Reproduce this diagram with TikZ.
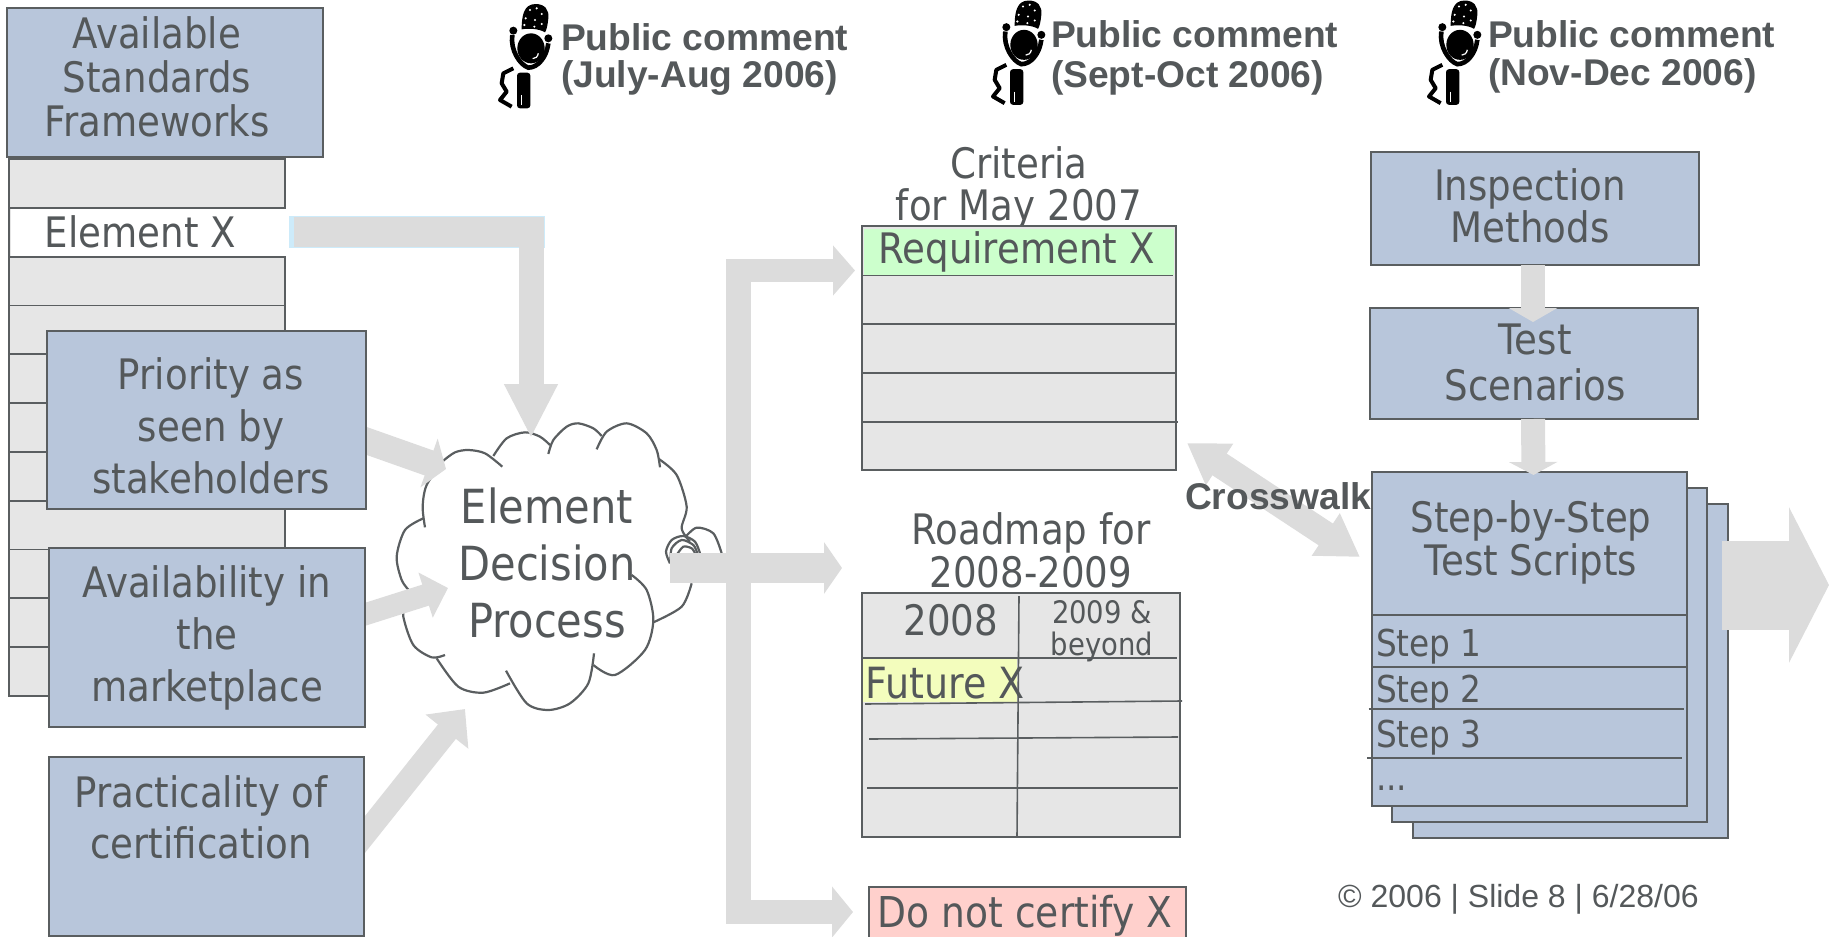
\documentclass[tikz,border=0pt]{standalone}
\usepackage{fontspec}
\usetikzlibrary{arrows.meta,calc}
\newfontfamily\tah[FakeStretch=0.885]{DejaVu Sans}
\newfontfamily\ari{Liberation Sans}
\definecolor{ink}{HTML}{54585A}
\definecolor{edgec}{HTML}{5A5E60}
\definecolor{bluefill}{HTML}{B8C6DB}
\definecolor{grayfill}{HTML}{E6E6E6}
\definecolor{arrowc}{HTML}{DCDCDC}
\definecolor{yelfill}{HTML}{F3FDBD}
\definecolor{redfill}{HTML}{FFD0CC}
\definecolor{grnfill}{HTML}{CCFFCC}
\definecolor{bluerim}{HTML}{CDEBFA}
\pgfdeclarelayer{backl}
\pgfdeclarelayer{midl}
\pgfsetlayers{backl,midl,main}
\tikzset{
  boxbase/.style={draw=edgec,line width=1.8pt,inner sep=0,outer sep=0,anchor=north west},
  bluebox/.style={boxbase,fill=bluefill},
  graybox/.style={boxbase,fill=grayfill},
  tx/.style 2 args={text=ink,inner sep=0,outer sep=0,align=center,anchor=base,font=\tah\fontsize{#1}{#2}\selectfont},
  pub/.style={text=ink,inner sep=0,outer sep=0,align=left,anchor=base west,font=\ari\bfseries\fontsize{37.2}{37}\selectfont},
  barrow/.style={draw=arrowc,line cap=butt},
  tline/.style={draw=edgec,line width=1.6pt},
  cl/.style={draw=edgec,line width=2.2pt},
  pics/mic/.style={code={
    \fill[black] (80,88) .. controls (80,50) and (85,12) .. (122,12) .. controls (150,12) and (163,30) .. (160,55) .. controls (158,75) and (155,90) .. (150,97) .. controls (130,85) and (100,85) .. (80,88) -- cycle;
    \foreach \a/\b in {105/30,125/25,140/42,92/55,120/60,140/72,88/75,118/80}{\fill[white] (\a,\b) circle[radius=3.5];}
    \fill[black] (55,92) circle[radius=12];
    \fill[black] (160,115) circle[radius=12];
    \fill[black] (108,145) ellipse[x radius=41,y radius=45];
    \draw[white,line width=1.2pt] (113,176) .. controls (122,176) and (128,170) .. (130,160);
    \draw[black,line width=4.6pt] (52,105) .. controls (45,150) and (75,195) .. (100,203) .. controls (130,203) and (155,170) .. (160,130);
    \fill[black,rounded corners=3pt] (66,218) rectangle (106,325);
    \draw[white,line width=1.4pt] (79,285) -- (79,315);
    \draw[black,line width=4pt,line join=round] (55,205) -- (25,220) -- (20,250) -- (35,275) -- (15,300) -- (50,320);
  }}
}
\begin{document}
\begin{tikzpicture}[x=1pt,y=-1pt]
\useasboundingbox (0,0) rectangle (1829,937);
\begin{pgfonlayer}{backl}
% element list
\foreach \i in {0,...,10}{
  \node[graybox,minimum width=276pt,minimum height=48.8pt] (row\i) at (9,{159+48.8*\i}) {};
}
\fill[white] (10.5,209) rectangle (287,255.6);
% cloud
\begin{scope}[shift={(380,400)},scale=1/3]
\draw[cl] plot[smooth] coordinates {(135,382) (128,320) (140,255) (190,182)};
\draw[cl] plot[smooth] coordinates {(190,182) (225,157) (265,150) (315,160) (367,200)};
\draw[cl] plot[smooth] coordinates {(340,168) (380,115) (435,97) (480,110) (510,135)};
\draw[cl] plot[smooth] coordinates {(505,162) (520,120) (560,80) (595,70) (640,85) (665,108)};
\draw[cl] plot[smooth] coordinates {(650,148) (680,95) (740,70) (800,100) (830,150) (840,202)};
\draw[cl] plot[smooth] coordinates {(838,178) (890,225) (920,320) (905,385) (930,425)};
\draw[cl] plot[smooth] coordinates {(915,412) (950,383) (1000,400) (1025,460)};
\draw[cl] plot[smooth] coordinates {(870,490) (858,455) (875,420) (910,408) (945,425) (960,460)};
\draw[cl] plot[smooth] coordinates {(872,490) (875,445) (905,420) (940,435) (952,460)};
\draw[cl] plot[smooth] coordinates {(890,465) (910,440) (935,445) (945,460)};
\draw[cl] plot[smooth] coordinates {(935,550) (905,620) (820,667)};
\draw[cl] plot[smooth] coordinates {(755,525) (800,570) (820,660) (795,750) (705,825) (640,795)};
\draw[cl] plot[smooth] coordinates {(642,760) (625,850) (570,910) (505,930) (440,910) (378,812)};
\draw[cl] plot[smooth] coordinates {(390,850) (310,878) (235,860) (170,775)};
\draw[cl] plot[smooth] coordinates {(195,765) (155,772) (100,735) (70,650) (78,610)};
\draw[cl] plot[smooth] coordinates {(130,355) (75,390) (50,470) (65,540) (88,572)};
\end{scope}
\end{pgfonlayer}
\node[tx={42}{48}] (elemx) at (140.5,247) {Element X};
\node[tx={47}{57}] (cloudt) at (547,637) {Element\\Decision\\Process};
% element X arrow
\fill[bluerim] (289,216) rectangle (544.5,248);
\draw[barrow,line width=30pt] (293.5,232) -- (543.5,232);
\coordinate (tipE) at (531,438);
\draw[barrow,line width=25pt,-{Triangle[length=54pt,width=50pt]}] (531,217) -- (tipE);
% top left box
\node[bluebox,minimum width=316pt,minimum height=149pt] (avail) at (7,8) {};
\node[tx={42}{43.7}] (availt) at (157,136) {Available\\Standards\\Frameworks};
% factor boxes; their arrows lie on a layer below and start behind them
\coordinate (tipP) at (446,469);
\coordinate (tipM) at (448,588);
\coordinate (tipC) at (465,709);
\node[bluebox,minimum width=319pt,minimum height=178pt] (prio) at (47,331) {};
\node[bluebox,minimum width=316pt,minimum height=179pt] (mark) at (49,548) {};
\node[bluebox,minimum width=315pt,minimum height=179pt] (prac) at (49,757) {};
\begin{pgfonlayer}{midl}
\draw[barrow,line width=26.4pt,-{Triangle[length=18pt,width=51pt]}] ($(prio.east)+(-19,14)$) -- (tipP);
\draw[barrow,line width=22pt,-{Triangle[length=23.5pt,width=46pt]}] ($(mark.east)+(-21,-16.5)$) -- (tipM);
\draw[barrow,line width=23pt,-{Triangle[length=29pt,width=53pt]}] ($(prac.east)+(-19,13)$) -- (tipC);
\end{pgfonlayer}
\node[tx={42}{52}] (priot) at (211,493) {Priority as\\seen by\\stakeholders};
\node[tx={42}{52}] (markt) at (207,701) {Availability in\\the\\marketplace};
\node[tx={42}{51}] (pract) at (201,858) {Practicality of\\certification};
% trunk and outputs
\draw[barrow,line width=25pt] (738.5,259) -- (738.5,924);
\coordinate (outC) at (670,568);
\coordinate (tipCrit) at (855,270.5);
\coordinate (tipRoad) at (842,568);
\coordinate (tipNo) at (853,912);
\draw[barrow,line width=23pt,-{Triangle[length=22pt,width=49pt]}] (738.5,270.5) -- (tipCrit);
\draw[barrow,line width=30pt,-{Triangle[length=18pt,width=51pt]}] (outC) -- (tipRoad);
\draw[barrow,line width=24pt,-{Triangle[length=21pt,width=50pt]}] (738.5,912) -- (tipNo);
% criteria table
\node[tx={42}{42}] (critt) at (1019,220) {Criteria\\for May 2007};
\node[graybox,minimum width=314pt,minimum height=244pt] (crit) at (862,226) {};
\fill[grnfill] (863.5,228.5) rectangle (1173.5,275);
\draw[tline] (863,275.3) -- (1173,275.3);
\draw[tline] (863,324) -- (1176,324);
\draw[tline] (863,373) -- (1176,373);
\draw[tline] (863,421.7) -- (1177.5,421.7);
\node[tx={42}{42}] (reqx) at (1016.5,263) {Requirement X};
% roadmap table
\node[tx={42}{43}] (roadt) at (1031,587) {Roadmap for\\2008-2009};
\node[graybox,minimum width=318pt,minimum height=244pt] (road) at (862,593) {};
\fill[yelfill] (863,659) rectangle (1017,702);
\draw[tline] (863,658) -- (1177,658);
\draw[tline] (865,704) -- (1182,701);
\draw[tline] (869,739) -- (1178,737);
\draw[tline] (867,788) -- (1178,788);
\draw[tline] (1019,596) -- (1017,837);
\node[tx={42}{42}] (y08) at (951,635) {2008};
\node[tx={31}{32}] (y09) at (1102,655) {2009 \&\\beyond};
\node[tx={43}{43}] (futx) at (945,698) {Future X};
% do not certify
\node[boxbase,fill=redfill,minimum width=317pt,minimum height=60pt] (nocert) at (869,887) {};
\node[tx={42.5}{42}] (nocertt) at (1025,927) {Do not certify X};
% right column
\node[bluebox,minimum width=328pt,minimum height=113pt] (insp) at (1371,152) {};
\node[tx={42}{42}] (inspt) at (1530,242) {Inspection\\Methods};
\node[bluebox,minimum width=328pt,minimum height=111pt] (test) at (1370,308) {};
\node[tx={42}{46}] (testt) at (1535,400) {Test\\Scenarios};
\node[bluebox,minimum width=315pt,minimum height=334pt] (s3) at (1413,504) {};
\node[bluebox,minimum width=315pt,minimum height=334pt] (s2) at (1392,488) {};
\node[bluebox,minimum width=315pt,minimum height=334pt] (s1) at (1372,472) {};
\draw[tline] (1372,615) -- (1687,615);
\draw[tline] (1372,667) -- (1687,667);
\draw[tline] (1368.5,709) -- (1684,709);
\draw[tline] (1367,758) -- (1682,758);
\node[tx={42}{43}] (scriptt) at (1531,575) {Step-by-Step\\Test Scripts};
\node[tx={37}{37},anchor=base west] (st1) at (1376,656) {Step 1};
\node[tx={37}{37},anchor=base west] (st2) at (1376,702) {Step 2};
\node[tx={37}{37},anchor=base west] (st3) at (1376,747) {Step 3};
\node[tx={37}{37},anchor=base west] (st4) at (1376,790) {...};
\draw[barrow,line width=24pt,-{Triangle[length=14pt,width=48pt]}] ($(insp.south)+(-2,0)$) -- ($(test.north)+(-1,14)$);
\draw[barrow,line width=24pt,-{Triangle[length=13pt,width=48pt]}] ($(test.south)+(-1,0)$) -- ($(s1.north)+(4,3)$);
% output arrow
\coordinate (tipOut) at (1829,585);
\draw[barrow,line width=89pt,-{Triangle[length=40pt,width=154pt]}] ($(s3.east)+(-6,-86)$) -- (tipOut);
% crosswalk
\coordinate (cwA) at (1187,443);
\coordinate (cwB) at (1360,557);
\draw[barrow,line width=26pt,{Triangle[length=39pt,width=47pt]}-{Triangle[length=41pt,width=48pt]}] (cwA) -- (cwB);
\node[pub,anchor=base west] (cross) at (1185,509) {Crosswalk};
% footer
\node[text=ink,inner sep=0,anchor=base west,font=\ari\fontsize{32}{32}\selectfont] (foot) at (1338,907) {© 2006 | Slide 8 | 6/28/06};
% public comments
\path (495,0) pic[scale=1/3] {mic};
\path (988,-3.5) pic[scale=1/3] {mic};
\path (1424,-3.5) pic[scale=1/3] {mic};
\node[pub] (pc1) at (561,50) {Public comment};
\node[pub] (pd1) at (561,87) {(July-Aug 2006)};
\node[pub] (pc2) at (1051,47) {Public comment};
\node[pub] (pd2) at (1051,87) {(Sept-Oct 2006)};
\node[pub] (pc3) at (1488,47) {Public comment};
\node[pub] (pd3) at (1488,85) {(Nov-Dec 2006)};
\end{tikzpicture}
\end{document}
